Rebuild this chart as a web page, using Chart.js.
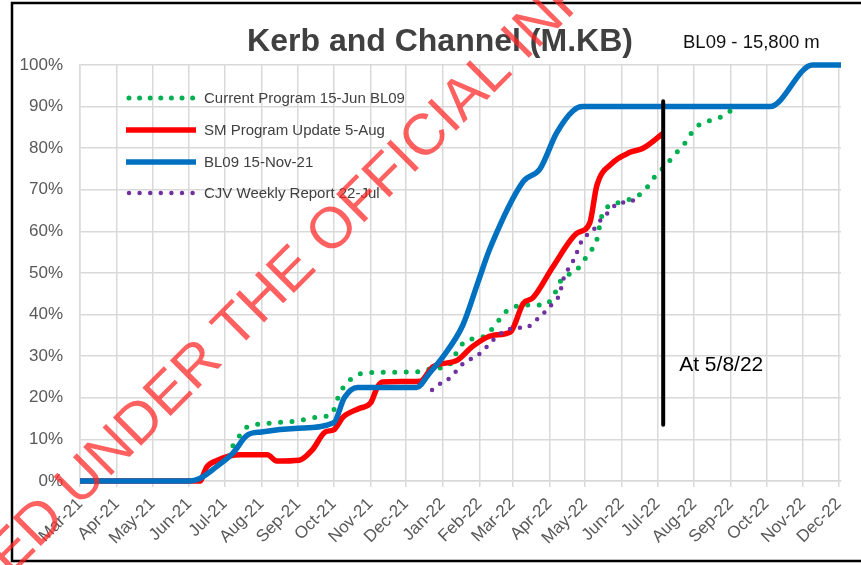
<!DOCTYPE html>
<html>
<head>
<meta charset="utf-8">
<title>Kerb and Channel (M.KB)</title>
<script src="https://cdn.jsdelivr.net/npm/chart.js@4.4.0/dist/chart.umd.min.js"></script>
<style>
  html, body { margin: 0; padding: 0; background: #fff; }
  #wrap { position: relative; width: 861px; height: 565px; overflow: hidden; }
</style>
</head>
<body>
<div id="wrap">
  <canvas id="kerbChart" width="861" height="565"></canvas>
</div>
<script>
// Month tick labels (x axis starts at 1 Mar 2021)
const monthLabels = ["Mar-21", "Apr-21", "May-21", "Jun-21", "Jul-21", "Aug-21", "Sep-21", "Oct-21",
  "Nov-21", "Dec-21", "Jan-22", "Feb-22", "Mar-22", "Apr-22", "May-22", "Jun-22", "Jul-22",
  "Aug-22", "Sep-22", "Oct-22", "Nov-22", "Dec-22"];
const monthStarts = ["2021-03-01", "2021-04-01", "2021-05-01", "2021-06-01", "2021-07-01", "2021-08-01",
  "2021-09-01", "2021-10-01", "2021-11-01", "2021-12-01", "2022-01-01", "2022-02-01", "2022-03-01",
  "2022-04-01", "2022-05-01", "2022-06-01", "2022-07-01", "2022-08-01", "2022-09-01", "2022-10-01",
  "2022-11-01", "2022-12-01"];
const axisEnd = "2022-12-03";

// Current Program 15-Jun BL09 (green dots)
const currentDates = ["2021-07-08", "2021-07-14", "2021-07-20", "2021-08-01", "2021-09-01", "2021-09-19",
  "2021-09-29", "2021-10-06", "2021-10-12", "2021-10-19", "2021-10-27", "2021-12-15", "2021-12-22",
  "2022-01-05", "2022-01-15", "2022-01-22", "2022-02-01", "2022-02-14", "2022-02-20", "2022-02-27",
  "2022-03-18", "2022-03-28", "2022-04-04", "2022-04-11", "2022-04-24", "2022-04-30", "2022-05-06",
  "2022-05-11", "2022-05-15", "2022-05-22", "2022-05-30", "2022-06-18", "2022-06-25", "2022-07-01",
  "2022-07-09", "2022-07-14", "2022-07-22", "2022-08-02", "2022-08-10", "2022-08-20", "2022-08-29",
  "2022-09-03"];
const currentValues = [8.5, 11, 13, 13.7, 14.5, 15.4,
  16, 21, 23.5, 25.2, 26, 26.3, 27,
  27.5, 32, 34, 34.3, 37.3, 39.7, 41.5,
  42.3, 42.3, 44.3, 48.3, 50.7, 53, 55.3,
  58, 63.5, 66.3, 67, 69.2, 71.6, 74,
  76, 78, 80.3, 84.8, 86.3, 87, 88.4,
  89.5];

// SM Program Update 5-Aug (red)
const smDates = ["2021-03-01", "2021-06-02", "2021-06-10", "2021-06-16", "2021-06-25", "2021-07-05",
  "2021-07-14", "2021-08-06", "2021-08-14", "2021-09-02", "2021-09-13", "2021-09-24", "2021-10-01",
  "2021-10-09", "2021-10-23", "2021-11-01", "2021-11-07", "2021-11-11", "2021-12-13", "2021-12-24",
  "2022-01-13", "2022-01-26", "2022-02-12", "2022-02-27", "2022-03-10", "2022-03-18", "2022-04-04",
  "2022-04-24", "2022-05-05", "2022-05-11", "2022-05-24", "2022-06-08", "2022-06-19", "2022-07-06"];
const smValues = [0, 0, 0, 3.4, 5, 6,
  6.3, 6.3, 4.8, 5, 7.5, 11.8, 12.3,
  15.4, 17.5, 18.7, 22.6, 23.8, 24, 27.5,
  29, 32.3, 35, 35.8, 42.7, 44, 51.5,
  59.5, 62, 71, 76.4, 79, 80, 83.6];

// BL09 15-Nov-21 (blue)
const bl09Dates = ["2021-03-01", "2021-06-01", "2021-06-10", "2021-06-24", "2021-07-08", "2021-07-20",
  "2021-08-01", "2021-09-01", "2021-10-01", "2021-10-10", "2021-10-21", "2021-12-10", "2021-12-21",
  "2022-01-01", "2022-01-18", "2022-01-31", "2022-02-10", "2022-03-10", "2022-03-24", "2022-04-07",
  "2022-04-21", "2022-04-29", "2022-10-04", "2022-11-09", "2022-12-03"];
const bl09Values = [0, 0, 0.6, 3.4, 6.7, 11,
  11.8, 12.7, 14, 20, 22.5, 22.5, 26,
  29.8, 37.5, 48, 56, 72, 75, 83.6,
  89, 90, 90, 100, 100];

// CJV Weekly Report 22-Jul (purple dots)
const cjvDates = ["2021-12-23", "2021-12-31", "2022-01-09", "2022-01-15", "2022-01-22", "2022-01-31",
  "2022-02-07", "2022-02-14", "2022-02-21", "2022-03-03", "2022-03-13", "2022-03-21", "2022-03-28",
  "2022-04-04", "2022-04-10", "2022-04-12", "2022-04-16", "2022-04-21", "2022-04-25", "2022-04-29",
  "2022-05-07", "2022-05-12", "2022-05-20", "2022-05-28", "2022-06-06", "2022-06-15"];
const cjvValues = [21.9, 23.6, 25.2, 27.4, 28.9, 30.3,
  32.2, 34.3, 35.8, 36.8, 37, 38.7, 40.6,
  42.8, 45.2, 47.8, 50.5, 52.9, 55.5, 58.2,
  59.9, 62, 64.4, 66.6, 67.1, 67.8];

// "At 5/8/22" status marker
const markerDates = ["2022-07-06", "2022-07-06"];
const markerValues = [91.3, 13.5];
const markerLabel = "At 5/8/22";

const titleText = "Kerb and Channel (M.KB)";
const subtitleText = "BL09 - 15,800 m";
const watermarkText = "RELEASED UNDER THE OFFICIAL INFORMATION ACT";

const FONT = '"Liberation Sans", Arial, sans-serif';
const DAY = 24 * 3600 * 1000;
const origin = Date.UTC(2021, 2, 1);

function dayOf(str) {
  const p = str.split("-").map(Number);
  return (Date.UTC(p[0], p[1] - 1, p[2]) - origin) / DAY;
}

function toPoints(dates, values) {
  return dates.map((d, i) => ({ x: dayOf(d), y: values[i] }));
}

const monthTicks = monthStarts.map(dayOf);

// Title, legend, annotation, frame and watermark
const overlayPlugin = {
  id: "overlay",
  afterDraw(chart) {
    const ctx = chart.ctx;
    const xs = chart.scales.x;
    const ys = chart.scales.y;
    ctx.save();

    ctx.fillStyle = "#404040";
    ctx.font = "bold 32px " + FONT;
    ctx.textAlign = "center";
    ctx.textBaseline = "alphabetic";
    ctx.fillText(titleText, 440, 51);

    ctx.fillStyle = "#111";
    ctx.font = "18.5px " + FONT;
    ctx.textAlign = "left";
    ctx.fillText(subtitleText, 683, 48);

    // legend inside the plot
    const rows = [98, 130, 162, 193];
    const legendSets = chart.data.datasets.filter((ds) => ds.label);
    legendSets.sort((a, b) => a.legendIndex - b.legendIndex);
    legendSets.forEach((ds, i) => {
      const y = rows[i];
      ctx.beginPath();
      ctx.strokeStyle = ds.borderColor;
      ctx.lineWidth = ds.borderWidth;
      ctx.lineCap = ds.borderDash.length ? "round" : "butt";
      ctx.setLineDash(ds.borderDash.length ? [0, 10.6] : []);
      ctx.moveTo(ds.borderDash.length ? 129 : 126, y);
      ctx.lineTo(196, y);
      ctx.stroke();
      ctx.setLineDash([]);
      ctx.fillStyle = "#404040";
      ctx.font = "15px " + FONT;
      ctx.textBaseline = "middle";
      ctx.fillText(ds.label, 204, y + 1);
    });

    // marker label
    ctx.fillStyle = "#000";
    ctx.font = "21px " + FONT;
    ctx.textBaseline = "alphabetic";
    ctx.textAlign = "left";
    ctx.fillText(markerLabel, xs.getPixelForValue(dayOf(markerDates[0])) + 16, ys.getPixelForValue(26.5));

    // outer frame
    ctx.strokeStyle = "#000";
    ctx.lineWidth = 2.5;
    ctx.beginPath();
    ctx.moveTo(870, 3);
    ctx.lineTo(12, 3);
    ctx.lineTo(12, 561);
    ctx.lineTo(870, 561);
    ctx.stroke();

    // watermark
    ctx.translate(82, 482);
    ctx.rotate(-45 * Math.PI / 180);
    ctx.font = "58px " + FONT;
    ctx.fillStyle = "rgba(255, 35, 35, 0.72)";
    ctx.textBaseline = "middle";
    ctx.textAlign = "left";
    const lead = ctx.measureText("RELEASED ").width + ctx.measureText("U").width / 2;
    ctx.fillText(watermarkText, -lead, 0);

    ctx.restore();
  }
};

const ctx = document.getElementById("kerbChart").getContext("2d");
new Chart(ctx, {
  type: "line",
  data: {
    datasets: [
      {
        label: "Current Program 15-Jun BL09",
        legendIndex: 0,
        data: toPoints(currentDates, currentValues),
        borderColor: "#00B050",
        borderWidth: 5,
        borderDash: [0, 11.5],
        borderCapStyle: "round",
        order: 4,
      },
      {
        label: "SM Program Update 5-Aug",
        legendIndex: 1,
        data: toPoints(smDates, smValues),
        borderColor: "#FF0000",
        borderWidth: 5.5,
        borderDash: [],
        order: 3,
      },
      {
        label: "BL09 15-Nov-21",
        legendIndex: 2,
        data: toPoints(bl09Dates, bl09Values),
        borderColor: "#0070C0",
        borderWidth: 5.5,
        borderDash: [],
        order: 2,
      },
      {
        label: "CJV Weekly Report 22-Jul",
        legendIndex: 3,
        data: toPoints(cjvDates, cjvValues),
        borderColor: "#7030A0",
        borderWidth: 4.5,
        borderDash: [0, 10],
        borderCapStyle: "round",
        order: 1,
      },
      {
        label: "",
        data: toPoints(markerDates, markerValues),
        borderColor: "#000",
        borderWidth: 4,
        borderDash: [],
        cubicInterpolationMode: "default",
        tension: 0,
        order: 0,
      },
    ],
  },
  options: {
    responsive: false,
    animation: false,
    layout: { padding: { top: 65, right: 20, left: 0, bottom: 0 } },
    elements: {
      point: { radius: 0 },
      line: { cubicInterpolationMode: "monotone", borderJoinStyle: "round" },
    },
    datasets: { line: { clip: false } },
    plugins: {
      legend: { display: false },
      title: { display: false },
      tooltip: { enabled: false },
    },
    scales: {
      x: {
        type: "linear",
        min: 0,
        max: dayOf(axisEnd),
        afterBuildTicks: (scale) => {
          scale.ticks = monthTicks.map((v) => ({ value: v }));
        },
        afterFit: (scale) => { scale.height = 84; },
        ticks: {
          autoSkip: false,
          maxRotation: 45,
          minRotation: 45,
          padding: 7,
          color: "#595959",
          font: { family: FONT, size: 17 },
          callback: (value, index) => monthLabels[index],
        },
        grid: { color: "#d9d9d9", lineWidth: 1.5, tickLength: 6 },
        border: { color: "#d9d9d9", width: 1.5 },
      },
      y: {
        min: 0,
        max: 100,
        afterFit: (scale) => { scale.width = 80; },
        ticks: {
          stepSize: 10,
          padding: 17,
          color: "#595959",
          font: { family: FONT, size: 17 },
          callback: (value) => value + "%",
        },
        grid: { color: "#d9d9d9", lineWidth: 1.5, drawTicks: false },
        border: { color: "#d9d9d9", width: 1.5 },
      },
    },
  },
  plugins: [overlayPlugin],
});
</script>
</body>
</html>
